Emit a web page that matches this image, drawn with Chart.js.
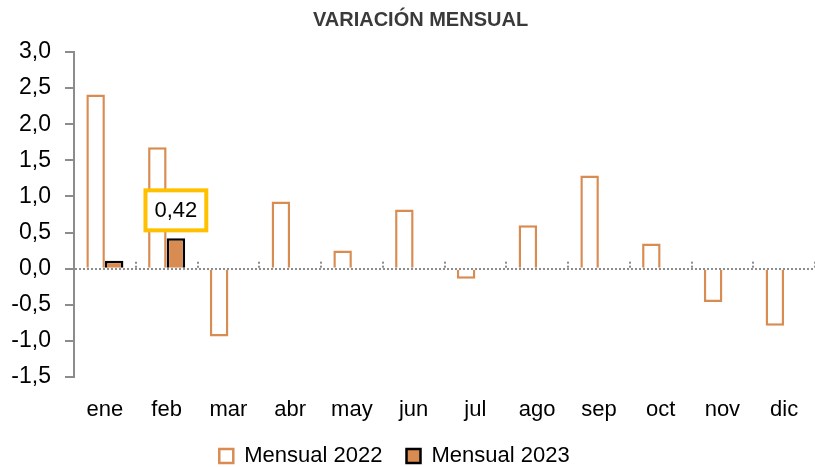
<!DOCTYPE html>
<html>
<head>
<meta charset="utf-8">
<script src="https://cdn.jsdelivr.net/npm/chart.js@4/dist/chart.umd.min.js"></script>
<style>
html,body{margin:0;padding:0;background:#fff;}
#wrap{width:815px;height:467px;position:relative;}
</style>
</head>
<body>
<div id="wrap"><canvas id="c" width="815" height="467"></canvas></div>
<script>
const categories = ['ene','feb','mar','abr','may','jun','jul','ago','sep','oct','nov','dic'];
const mensual2022 = [2.41, 1.68, -0.94, 0.93, 0.25, 0.82, -0.14, 0.60, 1.29, 0.35, -0.46, -0.79];
const mensual2023 = [0.11, 0.42, null, null, null, null, null, null, null, null, null, null];
const seriesNames = ['Mensual 2022', 'Mensual 2023'];
const chartTitle = 'VARIACIÓN MENSUAL';
const calloutIndex = 1;
const calloutLabel = '0,42';

const ORANGE = '#D98C52';
const FONT = "'Liberation Sans', Arial, sans-serif";

const shiftBlocks = {
  id: 'shiftBlocks',
  afterLayout(chart) {
    if (chart.legend) { chart.legend.right -= 26; }
    if (chart.titleBlock) { chart.titleBlock.left += 26; }
  }
};

const sepTicks = {
  id: 'sepTicks',
  afterDatasetsDraw(chart) {
    const ctx = chart.ctx, x = chart.scales.x, y = chart.scales.y;
    const y0 = y.getPixelForValue(0);
    const n = categories.length;
    const w = (x.getPixelForValue(1) - x.getPixelForValue(0));
    ctx.save();
    ctx.strokeStyle = '#8c8c8c';
    ctx.lineWidth = 2;
    ctx.setLineDash([2, 2]);
    for (let i = 0; i <= n; i++) {
      const px = Math.round(x.getPixelForValue(0) - w / 2 + i * w);
      ctx.beginPath();
      ctx.moveTo(px, y0 - 7);
      ctx.lineTo(px, y0);
      ctx.stroke();
    }
    ctx.restore();
  }
};

const callout = {
  id: 'callout',
  afterDatasetsDraw(chart) {
    const el = chart.getDatasetMeta(1).data[calloutIndex];
    if (!el) return;
    const ctx = chart.ctx;
    ctx.save();
    ctx.font = '22px ' + FONT;
    const tw = ctx.measureText(calloutLabel).width;
    const bw = tw + 18, bh = 40;
    const cx = el.x;
    const bottom = el.y - 8;
    const left = cx - bw / 2, top = bottom - bh;
    ctx.fillStyle = '#fff';
    ctx.fillRect(left, top, bw, bh);
    ctx.strokeStyle = '#FFC000';
    ctx.lineWidth = 4;
    ctx.strokeRect(left, top, bw, bh);
    ctx.fillStyle = '#000';
    ctx.textAlign = 'center';
    ctx.textBaseline = 'middle';
    ctx.fillText(calloutLabel, cx, top + bh / 2 + 1);
    ctx.restore();
  }
};

new Chart(document.getElementById('c'), {
  type: 'bar',
  data: {
    labels: categories,
    datasets: [
      { label: seriesNames[0], data: mensual2022, backgroundColor: '#ffffff', borderColor: ORANGE, borderWidth: 2.5 },
      { label: seriesNames[1], data: mensual2023, backgroundColor: ORANGE, borderColor: '#000000', borderWidth: 2.5 }
    ]
  },
  options: {
    responsive: false,
    animation: false,
    devicePixelRatio: 1,
    layout: { padding: { left: 0, right: 0, top: 4, bottom: 0 } },
    datasets: { bar: { categoryPercentage: 0.6, barPercentage: 1.0 } },
    plugins: {
      title: {
        display: true, text: chartTitle, color: '#3a3a3a',
        font: { family: FONT, size: 20, weight: 'bold' },
        padding: { top: 4, bottom: 20 }
      },
      legend: {
        position: 'bottom',
        maxHeight: 46,
        labels: {
          color: '#000', font: { family: FONT, size: 22 },
          boxWidth: 14, boxHeight: 14, padding: 24
        }
      },
      tooltip: { enabled: false }
    },
    scales: {
      x: {
        afterFit(s) { s.height = 44; },
        grid: { display: false },
        border: { display: false },
        ticks: { color: '#000', font: { family: FONT, size: 22 }, padding: 12, maxRotation: 0 }
      },
      y: {
        min: -1.5, max: 3.0,
        afterFit(s) { s.width = 74; },
        ticks: {
          stepSize: 0.5, color: '#000', font: { family: FONT, size: 23 }, padding: 14,
          callback: v => v.toFixed(1).replace('.', ',')
        },
        grid: {
          color: c => (c.tick && c.tick.value === 0) ? '#8c8c8c' : 'transparent',
          lineWidth: 2, tickColor: '#8c8c8c', tickLength: 9, tickWidth: 2
        },
        border: { display: true, color: '#8c8c8c', width: 2, dash: [2, 2] }
      }
    }
  },
  plugins: [shiftBlocks, sepTicks, callout]
});
</script>
</body>
</html>
